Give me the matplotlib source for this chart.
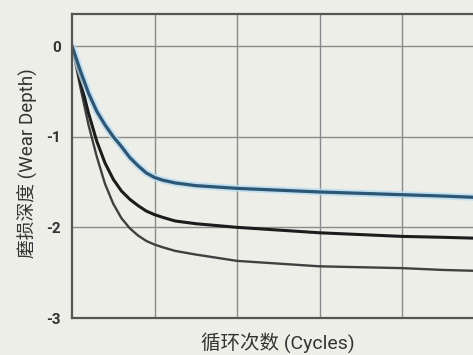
import numpy as np
import matplotlib
matplotlib.use('Agg')
import matplotlib.pyplot as plt
import matplotlib.patheffects as pe

plt.rcParams['font.family'] = ['Roboto', 'Noto Sans CJK SC', 'DejaVu Sans']

bgColor = '#eeeee8'
colorBlue = '#2c5673'
colorBlack = '#1c1c1c'
colorGray = '#404040'

# cycles (arbitrary units, no tick labels in the original)
cycles = [0, 0.1, 0.2, 0.3, 0.4, 0.5, 0.6, 0.7, 0.8, 0.9, 1.0, 1.1, 1.25, 1.5, 2.0, 2.5, 3.0, 3.5, 4.0, 4.5, 4.9]
wearBlue = [0, -0.27, -0.52, -0.72, -0.87, -1.0, -1.11, -1.23, -1.32, -1.40, -1.45, -1.48, -1.51, -1.54, -1.57, -1.59, -1.61, -1.625, -1.64, -1.655, -1.67]
wearBlack = [0, -0.38, -0.74, -1.05, -1.29, -1.47, -1.60, -1.69, -1.76, -1.82, -1.86, -1.89, -1.93, -1.96, -2.0, -2.03, -2.06, -2.08, -2.10, -2.11, -2.12]
wearGray = [0, -0.45, -0.87, -1.22, -1.52, -1.74, -1.90, -2.01, -2.09, -2.15, -2.19, -2.22, -2.26, -2.30, -2.37, -2.40, -2.43, -2.44, -2.45, -2.47, -2.48]
yTicks = [0, -1, -2, -3]

fig = plt.figure(figsize=(4.73, 3.55), dpi=100, facecolor=bgColor)
axes = fig.add_axes([72/473, 1-318/355, 412.5/473, 304/355])
axes.set_facecolor(bgColor)

axes.plot(cycles, wearGray, color=colorGray, linewidth=1.7, solid_capstyle='round', solid_joinstyle='round')
axes.plot(cycles, wearBlack, color=colorBlack, linewidth=2.2, solid_capstyle='round', solid_joinstyle='round')
axes.plot(cycles, wearBlue, color=colorBlue, linewidth=2.3, solid_capstyle='round', solid_joinstyle='round',
          path_effects=[pe.Stroke(linewidth=5, foreground='#b8dcf2', alpha=0.8), pe.Normal()])

axes.set_xlim(0, 5)
axes.set_ylim(-3, 0.353)
axes.set_xticks([1, 2, 3, 4])
axes.set_xticklabels([])
axes.set_yticks(yTicks)
axes.set_yticklabels([str(t) for t in yTicks], fontsize=11, fontweight='bold', color='#333333')
axes.tick_params(length=0, pad=8)
axes.grid(True, color='#8a8a8a', linewidth=1.0)
axes.set_axisbelow(True)

for side in ['left', 'top', 'bottom']:
    axes.spines[side].set_color('#555555')
    axes.spines[side].set_linewidth(1.6)
axes.spines['right'].set_visible(False)

fig.text(28/473, 1-163/355, '磨损深度 (Wear Depth)', rotation=90, ha='center', va='center',
         fontsize=13.5, color='#333333')
fig.text(278/473, 1-343/355, '循环次数 (Cycles)', ha='center', va='center',
         fontsize=14, color='#333333')

plt.savefig('out.png', dpi=100, facecolor=bgColor)
